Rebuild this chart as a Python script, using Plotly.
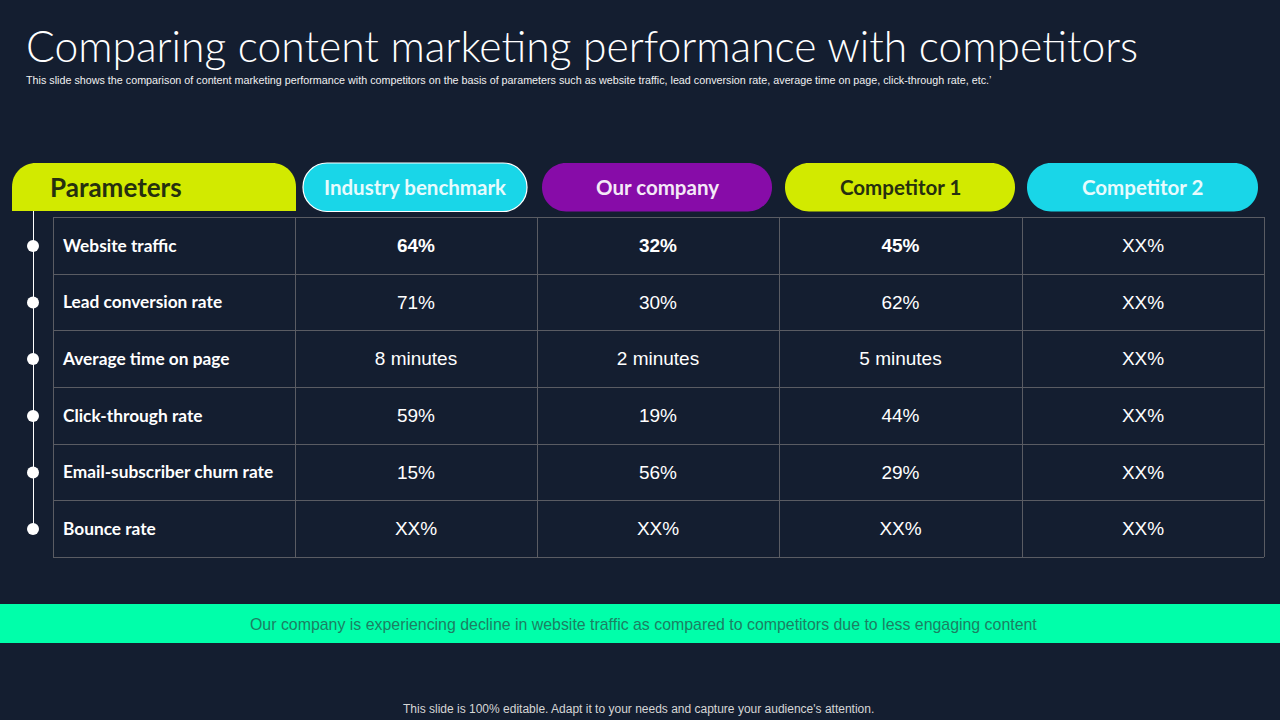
import plotly.graph_objects as go

BG = "#141e30"
LIME = "#d2ea00"
CYAN = "#19d6e8"
PURPLE = "#870ca8"
GRID = "#5a5c63"

title = "Comparing content marketing performance with competitors"
subtitle = ("This slide shows the comparison of content marketing performance with competitors on the basis of "
            "parameters such as website traffic, lead conversion rate, average time on page, click-through rate, etc.’")
takeaway = "Our company is experiencing decline in website traffic as compared to competitors due to less engaging content"
footer = "This slide is 100% editable. Adapt it to your needs and capture your audience's attention."

first_header = "Parameters"
headers = ["Industry benchmark", "Our company", "Competitor 1", "Competitor 2"]
parameters = ["Website traffic", "Lead conversion rate", "Average time on page",
              "Click-through rate", "Email-subscriber churn rate", "Bounce rate"]
industry = ["64%", "71%", "8 minutes", "59%", "15%", "XX%"]
our_company = ["32%", "30%", "2 minutes", "19%", "56%", "XX%"]
competitor_1 = ["45%", "62%", "5 minutes", "44%", "29%", "XX%"]
competitor_2 = ["XX%", "XX%", "XX%", "XX%", "XX%", "XX%"]

# slide geometry in pixels
col_edges = [53, 295, 537, 779, 1022, 1264]
row_edges = [217, 274, 330, 387, 444, 500, 557]
pill_edges = [(303, 527), (542, 772), (785, 1015), (1027, 1258)]
pill_fill = [CYAN, PURPLE, LIME, CYAN]
pill_text = ["#e8fbfd", "#f4e9f7", "#26300f", "#e8fbfd"]


def centers(edges):
    return [(a + b) / 2 for a, b in zip(edges[:-1], edges[1:])]


def pill_path(x0, x1, y0, y1, r):
    # rounded rectangle, k is the usual circle approximation for cubic corners
    k = 0.45 * r
    return (f"M {x0 + r} {y0} L {x1 - r} {y0} C {x1 - k} {y0} {x1} {y0 + k} {x1} {y0 + r} "
            f"L {x1} {y1 - r} C {x1} {y1 - k} {x1 - k} {y1} {x1 - r} {y1} L {x0 + r} {y1} "
            f"C {x0 + k} {y1} {x0} {y1 - k} {x0} {y1 - r} L {x0} {y0 + r} C {x0} {y0 + k} {x0 + k} {y0} {x0 + r} {y0} Z")


row_y = centers(row_edges)
col_x = centers(col_edges)

fig = go.Figure()

# timeline dots
fig.add_trace(go.Scatter(x=[33] * len(parameters), y=[y + 0.5 for y in row_y], mode="markers",
                         marker=dict(color="white", size=12), hoverinfo="skip"))

# parameter names
fig.add_trace(go.Scatter(x=[63] * len(parameters), y=[y + 2 for y in row_y], mode="text", text=parameters,
                         textposition="middle right", hoverinfo="skip",
                         textfont=dict(family="Lato", size=17.3, color="white", weight=700)))

# value columns, first row is bold except for competitor 2
columns = [industry, our_company, competitor_1, competitor_2]
for i, values in enumerate(columns):
    labels = [f"<b>{v}</b>" if r == 0 and i < 3 else v for r, v in enumerate(values)]
    fig.add_trace(go.Scatter(x=[col_x[i + 1]] * len(values), y=[y + 2 for y in row_y], mode="text", text=labels,
                             textposition="middle center", hoverinfo="skip",
                             textfont=dict(family="Liberation Sans", size=19, color="white")))

shapes = []
# grid, half pixel offset keeps the lines crisp
for x in col_edges:
    shapes.append(dict(type="line", x0=x + 0.5, x1=x + 0.5, y0=row_edges[0], y1=row_edges[-1],
                       line=dict(color=GRID, width=1)))
for y in row_edges:
    shapes.append(dict(type="line", x0=col_edges[0], x1=col_edges[-1], y0=y + 0.5, y1=y + 0.5,
                       line=dict(color=GRID, width=1)))
# timeline stem
shapes.append(dict(type="line", x0=33.5, x1=33.5, y0=211, y1=row_y[-1], line=dict(color="white", width=1), layer="below"))
# first header tab, only the top is rounded
shapes.append(dict(type="path", fillcolor=LIME, line=dict(width=0),
                   path="M 12 211 L 12 187 C 12 173 23 163 36 163 L 272 163 C 285 163 296 173 296 187 L 296 211 Z"))
# column header pills
for i, (x0, x1) in enumerate(pill_edges):
    border = dict(color="white", width=1.2) if i == 0 else dict(width=0)
    shapes.append(dict(type="path", path=pill_path(x0, x1, 163, 211.5, 24), fillcolor=pill_fill[i], line=border))
# takeaway band
shapes.append(dict(type="rect", x0=0, x1=1280, y0=604, y1=643, fillcolor="#00ffaa", line=dict(width=0)))

annotations = [
    dict(x=24, y=45.5, text=title, xanchor="left",
         font=dict(family="Lato", size=42.6, color="white", weight=300)),
    dict(x=24, y=80, text=subtitle, xanchor="left",
         font=dict(family="Liberation Sans", size=10.75, color="#f0f0f0")),
    dict(x=48, y=187, text=first_header, xanchor="left",
         font=dict(family="Lato", size=26, color="#26300f", weight=700)),
    dict(x=643, y=624.5, text=takeaway,
         font=dict(family="Liberation Sans", size=15.9, color="#1c7f63")),
    dict(x=638.5, y=708.5, text=footer,
         font=dict(family="Liberation Sans", size=12, color="#d6d6d6")),
]
for i, (x0, x1) in enumerate(pill_edges):
    annotations.append(dict(x=(x0 + x1) / 2, y=187, text=headers[i],
                            font=dict(family="Lato", size=20.5, color=pill_text[i], weight=700)))
for a in annotations:
    a.update(showarrow=False, xref="x", yref="y")

fig.update_layout(
    width=1280, height=720,
    margin=dict(l=0, r=0, t=0, b=0),
    paper_bgcolor=BG, plot_bgcolor=BG,
    showlegend=False,
    shapes=shapes,
    annotations=annotations,
    xaxis=dict(range=[0, 1280], visible=False, fixedrange=True),
    yaxis=dict(range=[720, 0], visible=False, fixedrange=True),
)

fig.write_html("out.html", config={"displayModeBar": False},
               post_script="document.body.style.margin='0';document.body.style.overflow='hidden';")
